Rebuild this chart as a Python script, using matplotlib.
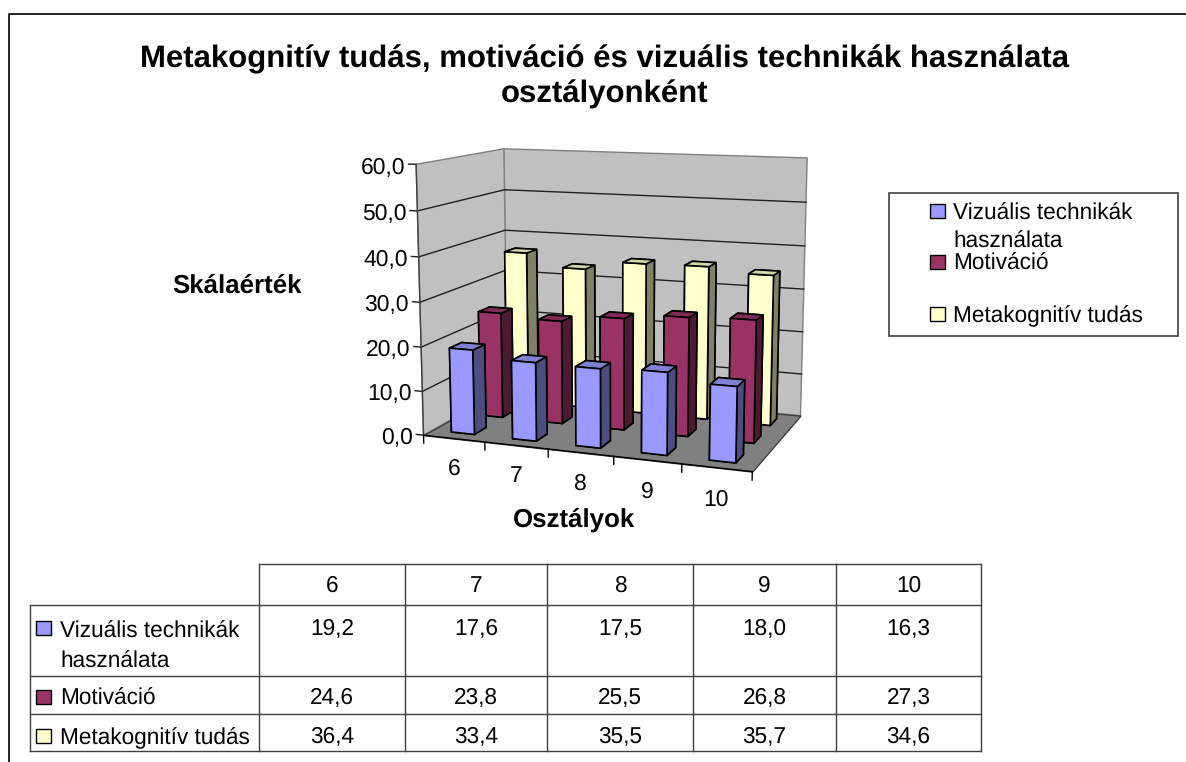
import numpy as np
import matplotlib
matplotlib.use('Agg')
import matplotlib.pyplot as plt
from mpl_toolkits.mplot3d.art3d import Poly3DCollection

plt.rcParams['font.family'] = ['Liberation Sans', 'DejaVu Sans']
plt.rcParams['text.hinting'] = 'none'

classes = ['6', '7', '8', '9', '10']
series = ['Vizuális technikák\nhasználata', 'Motiváció', 'Metakognitív tudás']
visual = [19.2, 17.6, 17.5, 18.0, 16.3]
motivation = [24.6, 23.8, 25.5, 26.8, 27.3]
metacog = [36.4, 33.4, 35.5, 35.7, 34.6]
yticks = [0, 10, 20, 30, 40, 50, 60]
values = [visual, motivation, metacog]
# front, side, top
colors = [('#9999FF', '#4D4D80', '#8080D5'), ('#993366', '#4D1A33', '#802B55'), ('#FFFFCC', '#808066', '#D5D5AA')]

W, H = 1186, 762
fig = plt.figure(figsize=(W / 100, H / 100), dpi=100)

# camera found by fitting the box corners of the picture
ax = fig.add_axes([380.6 / W, 230.3 / H, 459.9 / W, 459.9 / H], projection='3d', computed_zorder=False)
ax.set_xlim(0, 5, view_margin=0)
ax.set_ylim(0, 1, view_margin=0)
ax.set_zlim(0, 60, view_margin=0)
ax.set_xticks([])
ax.set_yticks([])
ax.set_zticks([])
ax.view_init(elev=10.681, azim=-69.837)
ax.set_proj_type('persp', focal_length=0.5472)
ax.set_box_aspect((1, 0.5932, 0.8007))
ax.set_axis_off()

faces = [[(0, 0, 0), (0, 1, 0), (0, 1, 60), (0, 0, 60)], [(0, 1, 0), (5, 1, 0), (5, 1, 60), (0, 1, 60)]]
ax.add_collection3d(Poly3DCollection(faces, facecolor='#C0C0C0', edgecolor='#808080', linewidth=1, zorder=1))
floor = [[(0, 0, 0), (5, 0, 0), (5, 1, 0), (0, 1, 0)]]
ax.add_collection3d(Poly3DCollection(floor, facecolor='#808080', edgecolor='#404040', linewidth=1, zorder=1))
for v in yticks[1:-1]:
    ax.plot([0, 0, 5], [0, 1, 1], [v, v, v], color='#202020', lw=1, zorder=2)
for v in yticks:
    ax.plot([-0.12, 0], [0, 0], [v, v], color='#202020', lw=1, zorder=2)
    ax.text(-0.18, 0, v - 0.9, f'{v},0', ha='right', va='center', fontsize=16.5, color='black')
ax.plot([0, 0], [0, 0], [0, 60], color='#404040', lw=1, zorder=2)
ax.plot([0, 5], [0, 0], [0, 0], color='black', lw=1, zorder=2)
for i in range(6):
    ax.plot([i, i], [0, 0], [0, -1.8], color='black', lw=1, zorder=2)
for i, lab in enumerate(classes):
    ax.text(i + 0.5, 0, -7, lab, ha='center', va='center', fontsize=16.5)

bw = 0.38
bd = 0.135
z = 3
for row in (2, 1, 0):
    fc = colors[row]
    for i in range(5):
        # bottom, top, front, back, left, right
        fcs = [fc[0], fc[2], fc[0], fc[0], fc[1], fc[1]]
        ax.bar3d(i + 0.5 - bw / 2, (row + 0.5) / 3 - bd / 2, 0, bw, bd, values[row][i], color=fcs,
                 edgecolor='black', linewidth=1.2, shade=False, zorder=z)
        z += 1

ov = fig.add_axes([0, 0, 1, 1], zorder=10)
ov.set_xlim(0, W)
ov.set_ylim(H, 0)
ov.axis('off')
ov.patch.set_alpha(0)

ov.plot([9, 9, W], [H, 14, 14], color='black', lw=1.2)
ov.text(605, 77, 'Metakognitív tudás, motiváció és vizuális technikák használata\nosztályonként', ha='center', va='center',
        fontsize=22.4, fontweight='bold', linespacing=1.28)
ov.text(237, 286, 'Skálaérték', ha='center', va='center', fontsize=18.6, fontweight='bold')
ov.text(574, 520, 'Osztályok', ha='center', va='center', fontsize=18.6, fontweight='bold')

# legend
ov.add_patch(plt.Rectangle((889, 193), 289, 143, fc='white', ec='#404040', lw=1.2))
leg_y = [211, 262, 314]
for k, name in enumerate(series):
    ov.add_patch(plt.Rectangle((930, leg_y[k] - 7), 15, 14, fc=colors[k][0], ec='black', lw=1))
    ov.text(953, leg_y[k] - 8 if k == 0 else leg_y[k] + 2, name, ha='left', va='top' if k == 0 else 'center',
            fontsize=16.3, linespacing=1.38)

# data table
cols = [259, 405, 547, 693, 836, 981]
rows = [564, 605, 676, 714, 751]
tab_y = [628, 697, 736]
ov.plot([cols[0], cols[-1]], [rows[0], rows[0]], color='#404040', lw=1)
for y in rows[1:]:
    ov.plot([30, cols[-1]], [y, y], color='#404040', lw=1)
for x in cols:
    ov.plot([x, x], [rows[0], rows[-1]], color='#404040', lw=1)
ov.plot([30, 30], [rows[1], rows[-1]], color='#404040', lw=1)
for j, lab in enumerate(classes):
    cx = (cols[j] + cols[j + 1]) / 2
    ov.text(cx, 586, lab, ha='center', va='center', fontsize=16.3)
    for k, y in enumerate(tab_y):
        ov.text(cx, y + 1, f'{values[k][j]:.1f}'.replace('.', ','), ha='center', va='center', fontsize=16.3)
for k, name in enumerate(series):
    ov.add_patch(plt.Rectangle((36, tab_y[k] - 7), 15, 14, fc=colors[k][0], ec='black', lw=1))
    ov.text(60, tab_y[k] - 7 if k == 0 else tab_y[k] + 2, name, ha='left', va='top' if k == 0 else 'center',
            fontsize=16.3, linespacing=1.5)

fig.savefig('out.png', dpi=100)
